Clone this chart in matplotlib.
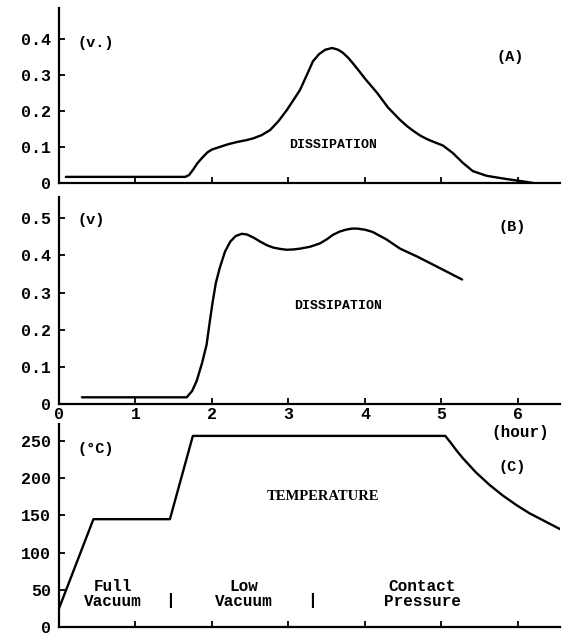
import matplotlib
matplotlib.use("Agg")
import matplotlib.pyplot as plt

# ---- data ----
hours_ticks = [0, 1, 2, 3, 4, 5, 6]

a_hours = [0.09, 1.65, 1.70, 1.75, 1.81, 1.88, 1.94, 2.0, 2.1, 2.2, 2.33, 2.45,
           2.54, 2.65, 2.76, 2.87, 2.98, 3.07, 3.15, 3.24, 3.32, 3.40, 3.48,
           3.57, 3.65, 3.71, 3.78, 3.84, 3.92, 4.0, 4.08, 4.16, 4.3, 4.46, 4.55,
           4.63, 4.72, 4.81, 4.9, 5.02, 5.15, 5.28, 5.41, 5.59, 5.85, 6.05, 6.2]
a_volts = [0.017, 0.017, 0.022, 0.036, 0.055, 0.072, 0.085, 0.093, 0.100, 0.107,
           0.114, 0.119, 0.124, 0.133, 0.147, 0.172, 0.203, 0.232, 0.258, 0.300,
           0.338, 0.358, 0.370, 0.375, 0.370, 0.362, 0.348, 0.333, 0.312, 0.290,
           0.270, 0.250, 0.210, 0.175, 0.158, 0.145, 0.132, 0.122, 0.114, 0.104,
           0.083, 0.056, 0.033, 0.020, 0.011, 0.005, 0.0]
a_yticks = [0, 0.1, 0.2, 0.3, 0.4]
a_ylabels = ["0", "0.1", "0.2", "0.3", "0.4"]

b_hours = [0.3, 1.67, 1.74, 1.80, 1.87, 1.93, 1.97, 2.01, 2.05, 2.10, 2.17, 2.24,
           2.31, 2.39, 2.46, 2.55, 2.63, 2.72, 2.8, 2.9, 2.98, 3.07, 3.15, 3.28,
           3.41, 3.5, 3.58, 3.67, 3.75, 3.83, 3.9, 4.0, 4.1, 4.28, 4.46, 4.68,
           4.89, 5.08, 5.27]
b_volts = [0.018, 0.018, 0.035, 0.062, 0.110, 0.160, 0.220, 0.276, 0.325, 0.365,
           0.410, 0.437, 0.452, 0.458, 0.456, 0.447, 0.437, 0.427, 0.421, 0.417,
           0.415, 0.416, 0.418, 0.423, 0.432, 0.443, 0.455, 0.464, 0.469, 0.472,
           0.472, 0.469, 0.463, 0.443, 0.418, 0.397, 0.375, 0.355, 0.335]
b_yticks = [0, 0.1, 0.2, 0.3, 0.4, 0.5]
b_ylabels = ["0", "0.1", "0.2", "0.3", "0.4", "0.5"]

c_hours = [0, 0.45, 1.45, 1.75, 5.05, 5.12, 5.2, 5.28, 5.45, 5.63, 5.8, 5.98,
           6.15, 6.3, 6.45, 6.6]
c_temp = [25, 145, 145, 257, 257, 248, 237, 227, 208, 191, 177, 164, 153, 145,
          137, 129]
c_yticks = [0, 50, 100, 150, 200, 250]
c_ylabels = ["0", "50", "100", "150", "200", "250"]

MONO = "Liberation Mono"
SERIF = "Liberation Serif"
TICK_FS = 12

fig = plt.figure(figsize=(5.64, 6.37), dpi=100)
W, H = 564, 637
left_px, right_px = 59, 560

def make_ax(top_px, bottom_px):
    return fig.add_axes([left_px / W, 1 - bottom_px / H,
                         (right_px - left_px) / W, (bottom_px - top_px) / H])

axA = make_ax(8, 183)
axB = make_ax(197, 404)
axC = make_ax(424, 627)

for ax in (axA, axB, axC):
    for s in ("top", "right"):
        ax.spines[s].set_visible(False)
    for s in ("left", "bottom"):
        ax.spines[s].set_linewidth(1.6)
    ax.set_xlim(0, 6.55)
    ax.set_xticks(hours_ticks)
    ax.tick_params(direction="in", length=4, width=1.3, pad=6)

lw = 1.7
line_kw = dict(color="black", lw=lw, solid_joinstyle="round", solid_capstyle="round")

axA.plot(a_hours, a_volts, **line_kw)
axA.set_ylim(0, 0.486)
axA.set_yticks(a_yticks)
axA.set_yticklabels(a_ylabels, fontfamily=MONO, fontweight="bold", fontsize=TICK_FS)
axA.set_xticklabels([])

axB.plot(b_hours, b_volts, **line_kw)
axB.set_ylim(0, 0.557)
axB.set_yticks(b_yticks)
axB.set_yticklabels(b_ylabels, fontfamily=MONO, fontweight="bold", fontsize=TICK_FS)
axB.set_xticklabels([str(h) for h in hours_ticks], fontfamily=MONO,
                    fontweight="bold", fontsize=TICK_FS)
axB.tick_params(axis="x", pad=2)

axC.plot(c_hours, c_temp, **line_kw)
axC.set_ylim(0, 273)
axC.set_yticks(c_yticks)
axC.set_yticklabels(c_ylabels, fontfamily=MONO, fontweight="bold", fontsize=TICK_FS)
axC.set_xticklabels([])

tkw = dict(fontfamily=MONO, fontweight="bold")

# Panel A annotations
axA.text(0.24, 0.39, "(v.)", ha="left", va="center", fontsize=11, **tkw)
axA.text(5.9, 0.35, "(A)", ha="center", va="center", fontsize=11, **tkw)
axA.text(3.58, 0.105, "DISSIPATION", ha="center", va="center", fontsize=9.5, **tkw)

# Panel B annotations
axB.text(0.24, 0.496, "(v)", ha="left", va="center", fontsize=11, **tkw)
axB.text(5.92, 0.475, "(B)", ha="center", va="center", fontsize=11, **tkw)
axB.text(3.65, 0.263, "DISSIPATION", ha="center", va="center", fontsize=9.5, **tkw)

# Panel C annotations
axC.text(0.24, 240, "(°C)", ha="left", va="center", fontsize=11, **tkw)
axC.text(5.93, 215, "(C)", ha="center", va="center", fontsize=11, **tkw)
axC.text(3.45, 176, "TEMPERATURE", ha="center", va="center", fontsize=10.5,
         fontfamily=SERIF, fontweight="bold")
axC.text(0.71, 44, "Full\nVacuum", ha="center", va="center", fontsize=11.5,
         linespacing=1.0, **tkw)
axC.text(2.42, 44, "Low\nVacuum", ha="center", va="center", fontsize=11.5,
         linespacing=1.0, **tkw)
axC.text(4.75, 44, "Contact\nPressure", ha="center", va="center", fontsize=11.5,
         linespacing=1.0, **tkw)
axC.text(1.45, 36, "|", ha="center", va="center", fontsize=12, **tkw)
axC.text(3.31, 36, "|", ha="center", va="center", fontsize=12, **tkw)
axC.text(6.03, 262, "(hour)", ha="center", va="center", fontsize=11.5,
         clip_on=False, **tkw)

fig.savefig("out.png", dpi=100)
